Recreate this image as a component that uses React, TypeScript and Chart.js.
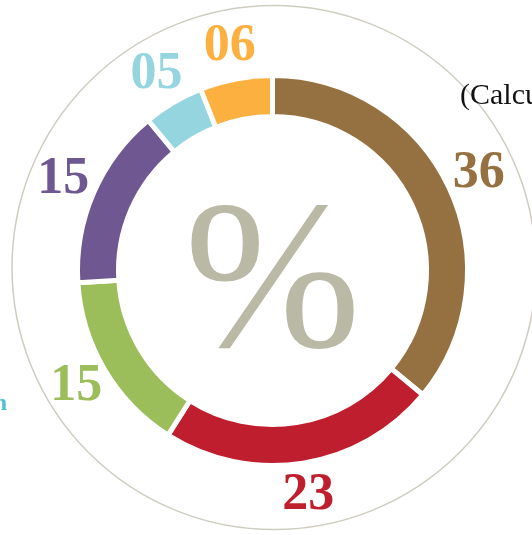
import React, { useEffect, useRef } from "react";
import { Chart, registerables } from "chart.js";

Chart.register(...registerables);

const categories = ["A", "B", "C", "D", "E", "F"];
const values = [36, 23, 15, 15, 5, 6];
const valueLabels = ["36", "23", "15", "15", "05", "06"];
const colors = ["#957141", "#be1e2d", "#9bbd5a", "#6f5791", "#95d5df", "#fbb040"];
const centerText = "%";
const noteText = "(Calculated";
const sideText = "n";

export default function App() {
  const ref = useRef<HTMLCanvasElement | null>(null);

  useEffect(() => {
    const canvas = ref.current;
    if (!canvas) return;

    const decor = {
      id: "decor",
      beforeDatasetsDraw(chart: any) {
        const ctx = chart.ctx;
        ctx.save();
        ctx.strokeStyle = "#cfcdc0";
        ctx.lineWidth = 1.5;
        ctx.beginPath();
        ctx.arc(274, 267.5, 262, 0, Math.PI * 2);
        ctx.stroke();
        ctx.restore();
      },
      afterDatasetsDraw(chart: any) {
        const ctx = chart.ctx;
        const meta = chart.getDatasetMeta(0);
        ctx.save();
        // center percent sign
        const a0 = meta.data[0];
        ctx.fillStyle = "#bab9a6";
        ctx.font = "212px 'Liberation Serif'";
        ctx.textAlign = "center";
        ctx.textBaseline = "alphabetic";
        ctx.fillText(centerText, a0.x, a0.y + 75);

        // value labels
        ctx.font = "bold 52px 'Liberation Serif'";
        ctx.textBaseline = "middle";
        meta.data.forEach((arc: any, i: number) => {
          const mid = (arc.startAngle + arc.endAngle) / 2;
          const r = 228;
          const x = arc.x + Math.cos(mid) * r;
          const y = arc.y + Math.sin(mid) * r;
          ctx.fillStyle = colors[i];
          ctx.fillText(valueLabels[i], x, y);
        });

        // cropped texts
        ctx.textBaseline = "alphabetic";
        ctx.textAlign = "left";
        ctx.fillStyle = "#111111";
        ctx.font = "30px 'Liberation Serif'";
        ctx.fillText(noteText, 460, 104);
        ctx.textAlign = "right";
        ctx.fillStyle = "#4fbfd2";
        ctx.font = "bold 24px 'Liberation Serif'";
        ctx.fillText(sideText, 7, 410);
        ctx.restore();
      },
    };

    const chart = new Chart(canvas, {
      type: "doughnut",
      data: {
        labels: categories,
        datasets: [
          {
            data: values,
            backgroundColor: colors,
            borderColor: "#ffffff",
            borderWidth: 5,
            hoverOffset: 0,
          },
        ],
      },
      options: {
        responsive: false,
        animation: false,
        devicePixelRatio: 1,
        radius: 195,
        cutout: (154 / 195) * 100 + "%",
        layout: { padding: { left: 13, right: 0, top: 6, bottom: 0 } },
        plugins: {
          legend: { display: false },
          tooltip: { enabled: false },
        },
        events: [],
      } as any,
      plugins: [decor],
    });

    return () => chart.destroy();
  }, []);

  return (
    <div
      style={{
        position: "fixed",
        left: 0,
        top: 0,
        width: 532,
        height: 535,
        background: "#ffffff",
        overflow: "hidden",
      }}
    >
      <canvas ref={ref} width={532} height={535} style={{ width: 532, height: 535, display: "block" }} />
    </div>
  );
}
